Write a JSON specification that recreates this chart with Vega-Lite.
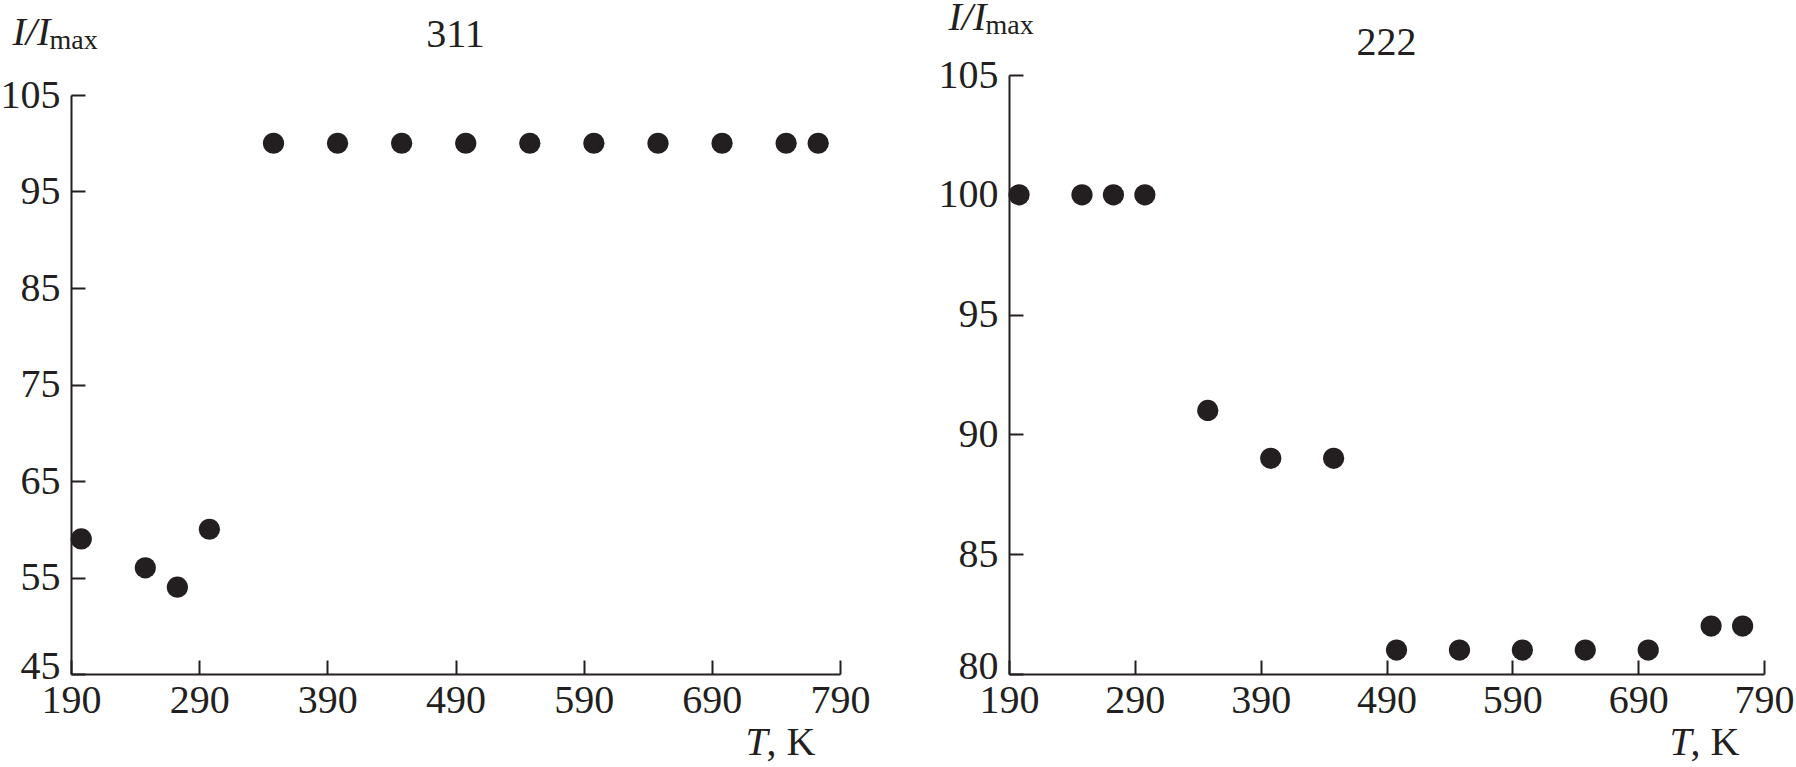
{
  "$schema": "https://vega.github.io/schema/vega-lite/v6.json",
  "background": "white",
  "padding": {"left": 0, "top": -3, "right": 0, "bottom": 0},
  "datasets": {
    "d311": [
      {"T": 198, "I": 59}, {"T": 248, "I": 56}, {"T": 273, "I": 54}, {"T": 298, "I": 60},
      {"T": 348, "I": 100}, {"T": 398, "I": 100}, {"T": 448, "I": 100}, {"T": 498, "I": 100},
      {"T": 548, "I": 100}, {"T": 598, "I": 100}, {"T": 648, "I": 100}, {"T": 698, "I": 100},
      {"T": 748, "I": 100}, {"T": 773, "I": 100}
    ],
    "d222": [
      {"T": 198, "I": 100}, {"T": 248, "I": 100}, {"T": 273, "I": 100}, {"T": 298, "I": 100},
      {"T": 348, "I": 91}, {"T": 398, "I": 89}, {"T": 448, "I": 89}, {"T": 498, "I": 81},
      {"T": 548, "I": 81}, {"T": 598, "I": 81}, {"T": 648, "I": 81}, {"T": 698, "I": 81},
      {"T": 748, "I": 82}, {"T": 773, "I": 82}
    ]
  },
  "hconcat": [
    {
      "width": 769,
      "height": 599,
      "data": {"name": "d311"},
      "title": {"text": "311", "fontSize": 40, "font": "Liberation Serif", "fontWeight": "normal", "color": "#231f20", "anchor": "middle", "frame": "group", "baseline": "alphabetic", "offset": 0, "dy": 75},
      "layer": [
        {
          "mark": {"type": "point", "filled": true, "size": 450, "color": "#231f20", "opacity": 1},
          "encoding": {
            "x": {"field": "T", "type": "quantitative", "scale": {"domain": [190, 790], "nice": false, "zero": false},
              "axis": {"values": [190, 290, 390, 490, 590, 690, 790], "tickSize": -14, "labelPadding": 20, "title": "T", "titleFontSize": 40, "titleFontStyle": "italic", "titleAlign": "left", "titleBaseline": "alphabetic", "titleX": 674, "titleY": 80}},
            "y": {"field": "I", "type": "quantitative", "scale": {"domain": [45, 105], "range": [599, 20], "nice": false, "zero": false},
              "axis": {"values": [45, 55, 65, 75, 85, 95, 105], "tickSize": -14, "labelPadding": 25, "labelOffset": {"condition": {"test": "datum.value == 45", "value": -8}, "value": 0}, "title": "I/I", "titleFontSize": 40, "titleFontStyle": "italic", "titleAngle": 0, "titleAlign": "left", "titleBaseline": "alphabetic", "titleX": -59, "titleY": -31}}
          }
        },
        {
          "mark": {"type": "point", "opacity": 0},
          "encoding": {
            "x": {"field": "T", "type": "quantitative", "axis": {"orient": "top", "labels": false, "ticks": false, "domain": false, "title": ", K", "titleFontSize": 40, "titleFontStyle": "normal", "titleAlign": "left", "titleBaseline": "alphabetic", "titleX": 695, "titleY": 679}},
            "y": {"field": "I", "type": "quantitative", "axis": {"orient": "right", "labels": false, "ticks": false, "domain": false, "title": "max", "titleFontSize": 28, "titleFontStyle": "normal", "titleAngle": 0, "titleAlign": "left", "titleBaseline": "alphabetic", "titleX": -791, "titleY": -27}}
          }
        }
      ],
      "resolve": {"axis": {"x": "independent", "y": "independent"}}
    },
    {
      "width": 755,
      "height": 599,
      "data": {"name": "d222"},
      "title": {"text": "222", "fontSize": 40, "font": "Liberation Serif", "fontWeight": "normal", "color": "#231f20", "anchor": "middle", "frame": "group", "baseline": "alphabetic", "offset": 0, "dy": 98},
      "layer": [
        {
          "mark": {"type": "point", "filled": true, "size": 450, "color": "#231f20", "opacity": 1},
          "encoding": {
            "x": {"field": "T", "type": "quantitative", "scale": {"domain": [190, 790], "nice": false, "zero": false},
              "axis": {"values": [190, 290, 390, 490, 590, 690, 790], "tickSize": -14, "labelPadding": 20, "title": "T", "titleFontSize": 40, "titleFontStyle": "italic", "titleAlign": "left", "titleBaseline": "alphabetic", "titleX": 660, "titleY": 80}},
            "y": {"field": "I", "type": "quantitative", "scale": {"domain": [80, 105], "range": [599, 0], "nice": false, "zero": false},
              "axis": {"values": [80, 85, 90, 95, 100, 105], "tickSize": -14, "labelPadding": 25, "labelOffset": {"condition": {"test": "datum.value == 80", "value": -8}, "value": 0}, "title": "I/I", "titleFontSize": 40, "titleFontStyle": "italic", "titleAngle": 0, "titleAlign": "left", "titleBaseline": "alphabetic", "titleX": -61, "titleY": -46}}
          }
        },
        {
          "mark": {"type": "point", "opacity": 0},
          "encoding": {
            "x": {"field": "T", "type": "quantitative", "axis": {"orient": "top", "labels": false, "ticks": false, "domain": false, "title": ", K", "titleFontSize": 40, "titleFontStyle": "normal", "titleAlign": "left", "titleBaseline": "alphabetic", "titleX": 681, "titleY": 679}},
            "y": {"field": "I", "type": "quantitative", "axis": {"orient": "right", "labels": false, "ticks": false, "domain": false, "title": "max", "titleFontSize": 28, "titleFontStyle": "normal", "titleAngle": 0, "titleAlign": "left", "titleBaseline": "alphabetic", "titleX": -779, "titleY": -42}}
          }
        }
      ],
      "resolve": {"axis": {"x": "independent", "y": "independent"}}
    }
  ],
  "spacing": 68,
  "align": "none",
  "bounds": "full",
  "config": {
    "view": {"stroke": null},
    "font": "Liberation Serif",
    "axis": {
      "grid": false,
      "domainColor": "#231f20",
      "domainWidth": 2,
      "tickColor": "#231f20",
      "tickWidth": 2,
      "labelColor": "#231f20",
      "titleColor": "#231f20",
      "labelFont": "Liberation Serif",
      "titleFont": "Liberation Serif",
      "labelFontSize": 40,
      "labelFlush": false,
      "labelOverlap": false,
      "labelBound": false,
      "titleFontWeight": "normal",
      "titlePadding": 0
    }
  }
}
